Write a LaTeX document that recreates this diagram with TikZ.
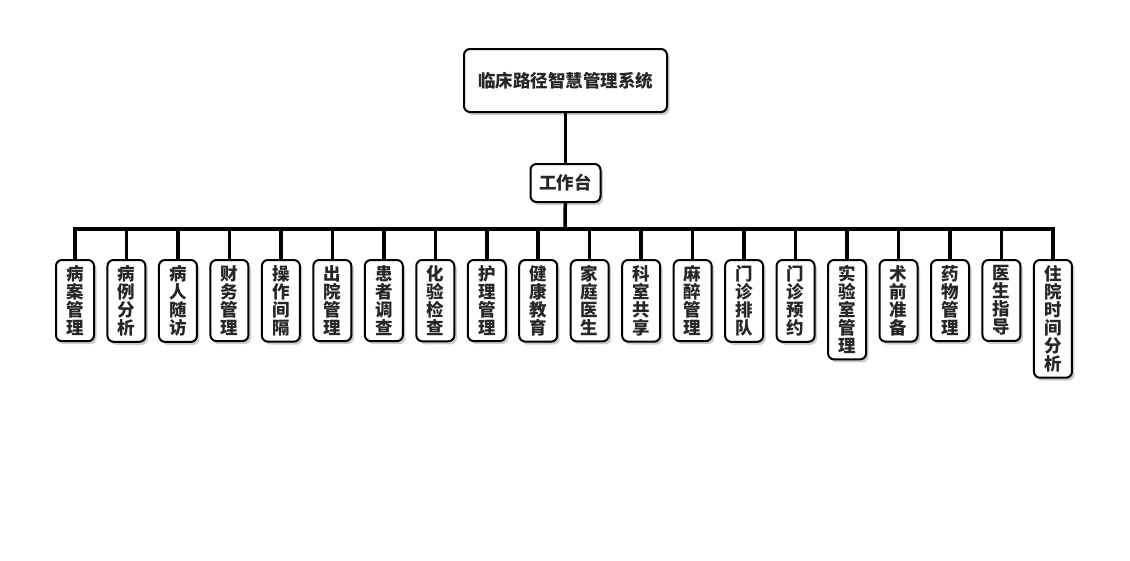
\documentclass[tikz,border=0pt]{standalone}
\usepackage{fontspec}
\setmainfont{Noto Sans CJK SC}
\usetikzlibrary{positioning, shadows}

\begin{document}
\begin{tikzpicture}[
    x=1pt, y=1pt,
    % Styles
    rootbox/.style={draw=black, fill=white, line width=2pt, rounded corners=6pt, text=black!85, font=\bfseries\fontsize{17.5pt}{18pt}\selectfont, drop shadow={shadow xshift=2.5pt, shadow yshift=-3pt, opacity=0.4}},
    leafbox/.style={rootbox, anchor=north, text width=18pt, align=center, inner xsep=10pt, inner ysep=5.5pt},
    link/.style={line width=3.5pt, black},
]
\useasboundingbox (0,0) rectangle (1130,-560);

% Root
\node[rootbox, minimum width=203pt, minimum height=63pt] (root) at (565.5,-80.5) {临床路径智慧管理系统};

% Workbench
\node[rootbox, minimum width=70pt, minimum height=38pt, below=50pt of root] (desk) {工作台};
\draw[link] (root) -- (desk);

% Bus
\coordinate (bus) at (565,-229);
\draw[link] (desk) -- (bus);

% Modules
\foreach \name [count=\i] in {病\\案\\管\\理, 病\\例\\分\\析, 病\\人\\随\\访, 财\\务\\管\\理, 操\\作\\间\\隔,
    出\\院\\管\\理, 患\\者\\调\\查, 化\\验\\检\\查, 护\\理\\管\\理, 健\\康\\教\\育,
    家\\庭\\医\\生, 科\\室\\共\\享, 麻\\醉\\管\\理, 门\\诊\\排\\队, 门\\诊\\预\\约,
    实\\验\\室\\管\\理, 术\\前\\准\\备, 药\\物\\管\\理, 医\\生\\指\\导, 住\\院\\时\\间\\分\\析} {
  \node[leafbox] (leaf\i) at ({75+51.47*(\i-1)},-259) {\name};
  \draw[link] (bus) -| (leaf\i.north);
}

\end{tikzpicture}
\end{document}
